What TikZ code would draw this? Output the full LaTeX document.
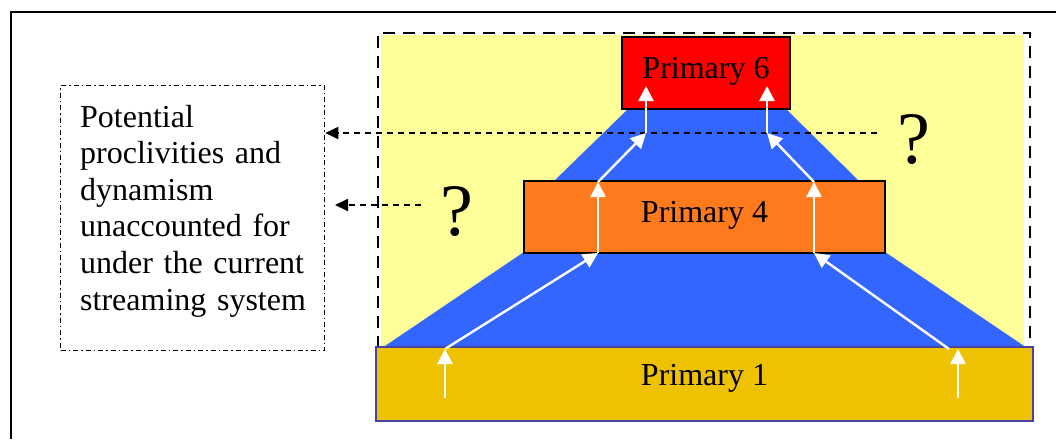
\documentclass[tikz,border=0pt]{standalone}
\usepackage{fontspec}
\setmainfont{Liberation Serif}
\usetikzlibrary{arrows.meta}
\definecolor{pyellow}{HTML}{FFFF99}
\definecolor{pblue}{HTML}{3366FF}
\definecolor{pred}{HTML}{FF0000}
\definecolor{porange}{HTML}{FF7A1C}
\definecolor{pgold}{HTML}{EEC200}
\definecolor{pborder}{HTML}{4646A0}
\tikzset{
  primbox/.style={draw=black, line width=1.5pt, inner sep=0pt, font=\fontsize{32}{38}\selectfont, text height=22pt, text depth=12pt},
  flow/.style={draw=white, line width=2.4pt, -{Triangle[width=15pt,length=15pt]}},
  flowline/.style={draw=white, line width=2.4pt},
  hint/.style={draw=black, line width=1.8pt, dash pattern=on 6pt off 5pt, -{Triangle[width=12pt,length=13pt]}},
  qmark/.style={font=\fontsize{74}{74}\selectfont, inner sep=0pt},
}
\begin{document}
\begin{tikzpicture}[x=1pt,y=-1pt]
\useasboundingbox (0,0) rectangle (1056,439);
% outer frame
\draw[line width=2.2pt] (1056,12) -- (11,12) -- (11,439);
% yellow background
\fill[pyellow] (381,35) rectangle (1024,348);
% blue trapezoids
\fill[pblue] (628,109) -- (786,109) -- (860,182) -- (553,182) -- cycle;
\fill[pblue] (524,252) -- (885,252) -- (1027,348) -- (382,348) -- cycle;
% dashed frame
\draw[line width=1.8pt, dash pattern=on 12pt off 8pt] (378,348) -- (378,33) -- (1030,33) -- (1030,348);
% primaries
\node[primbox, fill=pred, minimum width=168pt, minimum height=72pt] (p6) at (706,73) {Primary 6};
\node[primbox, fill=porange, minimum width=361pt, minimum height=72pt] (p4) at (704.5,217) {Primary 4};
\node[primbox, draw=pborder, line width=2pt, fill=pgold, minimum width=657pt, minimum height=74pt, text depth=20pt] (p1) at (704.5,384) {Primary 1};
% note box
\node[draw=black, line width=1.3pt, dash pattern=on 5pt off 3pt on 1.5pt off 3pt, minimum width=264pt, minimum height=265pt, anchor=north west, inner sep=0pt] (note) at (60,85) {};
\node[anchor=base west, inner sep=0pt, text width=240pt, align=left, font=\fontsize{32}{36.6}\selectfont] (notetext) at (80,127) {Potential\\proclivities and\\dynamism\\unaccounted for\\under the current\\streaming system};
% question marks
\node[qmark] (q1) at (914,140) {?};
\node[qmark] (q2) at (457,212) {?};
% dashed hint arrows
\coordinate (h1s) at (877,133);
\coordinate (h2s) at (421,205);
\coordinate (h2e) at (335,205);
\draw[hint] (h1s) -- (note.east |- h1s);
\draw[hint] (h2s) -- (h2e);
% white flow arrows, left chain
\coordinate (la) at (445,398);
\coordinate (lb) at (445,349);
\coordinate (lc) at (598,253);
\coordinate (ld) at (598,182);
\coordinate (le) at (646,133);
\coordinate (lf) at (646,86);
\draw[flow] (la) -- (lb);
\draw[flow] (lb) -- (lc);
\draw[flow] (lc) -- (ld);
\draw[flow] (ld) -- (le);
\draw[flow] (le) -- (lf);
% right chain
\coordinate (ra) at (958,398);
\coordinate (rb) at (958,349);
\coordinate (rb2) at (949,349);
\coordinate (rc) at (814,253);
\coordinate (rd) at (814,182);
\coordinate (re) at (767,133);
\coordinate (rf) at (767,86);
\draw[flow] (ra) -- (rb);
\draw[flow] (rb2) -- (rc);
\draw[flow] (rc) -- (rd);
\draw[flow] (rd) -- (re);
\draw[flow] (re) -- (rf);
\end{tikzpicture}
\end{document}
